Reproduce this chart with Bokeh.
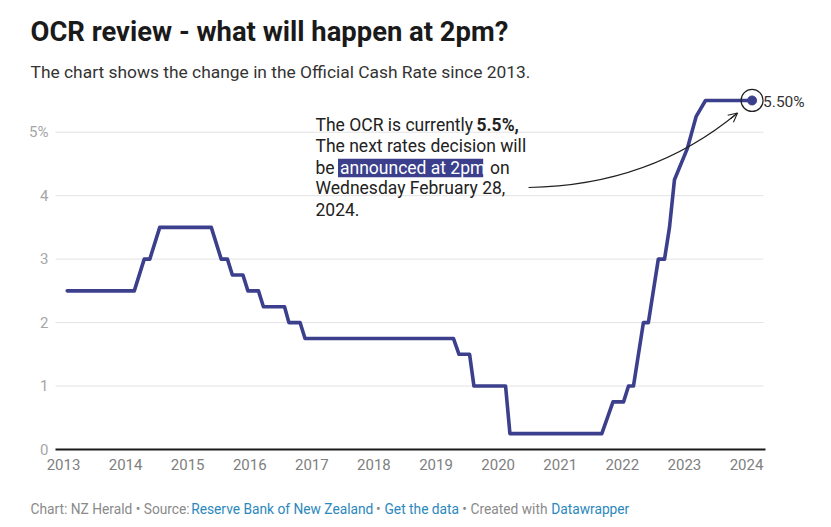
from bokeh.plotting import figure
from bokeh.models import FixedTicker, Range1d, Arrow, OpenHead
from bokeh.core.properties import value
from bokeh.embed import file_html
from bokeh.resources import INLINE

# ---- data (decimal year, OCR %) ----
ocr_date = [2013.06, 2014.14, 2014.30, 2014.39, 2014.55, 2015.38, 2015.54, 2015.64,
            2015.72, 2015.89, 2015.97, 2016.14, 2016.22, 2016.56, 2016.63, 2016.81,
            2016.89, 2019.28, 2019.37, 2019.54, 2019.61, 2020.12, 2020.19, 2021.67,
            2021.85, 2022.02, 2022.10, 2022.18, 2022.34, 2022.42, 2022.58, 2022.68,
            2022.76, 2022.84, 2023.05, 2023.19, 2023.34, 2024.09]
ocr_rate = [2.5, 2.5, 3.0, 3.0, 3.5, 3.5, 3.0, 3.0,
            2.75, 2.75, 2.5, 2.5, 2.25, 2.25, 2.0, 2.0,
            1.75, 1.75, 1.5, 1.5, 1.0, 1.0, 0.25, 0.25,
            0.75, 0.75, 1.0, 1.0, 2.0, 2.0, 3.0, 3.0,
            3.5, 4.25, 4.75, 5.25, 5.5, 5.5]
year_ticks = [2013, 2014, 2015, 2016, 2017, 2018, 2019, 2020, 2021, 2022, 2023, 2024]
value_ticks = [0, 1, 2, 3, 4, 5]
value_tick_labels = {0: "0", 1: "1", 2: "2", 3: "3", 4: "4", 5: "5%"}

NAVY = "#3b3f8c"
FONT = "Roboto"
W, H = 831, 527
PXX = 62.09   # px per year   (2013 at page x 63)
PXY = 63.46   # px per unit   (0 at page y 449)


def px_x(px):
    return 2013 + (px - 63) / PXX


def px_y(py):
    return (449 - py) / PXY


p = figure(width=W, height=H, output_backend="svg", toolbar_location=None,
           x_range=Range1d(px_x(0), px_x(W)), y_range=Range1d(px_y(H), px_y(0)),
           min_border=0, min_border_left=0, min_border_right=0,
           min_border_top=0, min_border_bottom=0)
p.outline_line_color = None
p.background_fill_color = "white"
p.border_fill_color = "white"
p.xgrid.visible = False
p.ygrid.visible = False

PLOT_LEFT = px_x(55)
PLOT_RIGHT = px_x(765)

# axes, pinned inside the frame
p.xaxis.fixed_location = 0
p.xaxis.ticker = FixedTicker(ticks=year_ticks)
p.xaxis.axis_line_color = None
p.xaxis.major_tick_line_color = None
p.xaxis.minor_tick_line_color = None
p.xaxis.major_tick_out = 0
p.xaxis.major_tick_in = 0
p.xaxis.major_label_standoff = 9
p.xaxis.major_label_text_font = FONT
p.xaxis.major_label_text_font_size = "15px"
p.xaxis.major_label_text_color = "#808080"

p.yaxis.fixed_location = PLOT_LEFT
p.yaxis.ticker = FixedTicker(ticks=value_ticks)
p.yaxis.major_label_overrides = value_tick_labels
p.yaxis.axis_line_color = None
p.yaxis.major_tick_line_color = None
p.yaxis.minor_tick_line_color = None
p.yaxis.major_tick_out = 0
p.yaxis.major_tick_in = 0
p.yaxis.major_label_standoff = 7
p.yaxis.major_label_text_font = FONT
p.yaxis.major_label_text_font_size = "15px"
p.yaxis.major_label_text_color = "#a6a6a6"

# gridlines (stop short of the end label) and baseline
grid_vals = [v for v in value_ticks if v != 0]
p.segment(x0=[PLOT_LEFT] * len(grid_vals), y0=grid_vals,
          x1=[px_x(763)] * len(grid_vals), y1=grid_vals,
          line_color="#e3e3e3", line_width=1)
p.segment(x0=[PLOT_LEFT], y0=[0], x1=[PLOT_RIGHT], y1=[0], line_color="#1a1a1a", line_width=2.2)

# main line
p.line(ocr_date, ocr_rate, line_color=NAVY, line_width=3.6, line_join="round", line_cap="round")

# end point, ring and label
p.scatter([ocr_date[-1]], [ocr_rate[-1]], size=9, fill_color=NAVY, line_color=NAVY)
p.scatter([ocr_date[-1]], [ocr_rate[-1]], size=22, fill_alpha=0, line_color="#222222", line_width=1.2)
p.text([ocr_date[-1]], [ocr_rate[-1]], text=[f"{ocr_rate[-1]:.2f}%"], x_offset=11, y_offset=2,
       text_font=value(FONT), text_font_size="15.5px", text_color="#333333",
       text_baseline="middle", text_align="left")


def txt(x_px, y_px, text, size, bold=False, color="#222222"):
    p.text([px_x(x_px)], [px_y(y_px)], text=[text], text_font=value(FONT), text_font_size=size,
           text_font_style="bold" if bold else "normal", text_color=color,
           text_baseline="middle", text_align="left")


# annotation text (y = visual centre of each line)
ANN = "17.5px"
mid = [124.5, 145.5, 167.0, 187.5, 208.5]
p.quad(left=[px_x(337.5)], right=[px_x(482.7)], top=[px_y(158.3)], bottom=[px_y(176.7)],
       fill_color=NAVY, line_color=None)
txt(315, mid[0], "The OCR is currently", ANN)
txt(476, mid[0], "5.5%,", ANN, bold=True)
txt(315, mid[1], "The next rates decision will", ANN)
txt(315, mid[2], "be", ANN)
txt(339.5, mid[2], "announced at 2pm", ANN, color="white")
txt(489.5, mid[2], "on", ANN)
txt(315, mid[3], "Wednesday February 28,", ANN)
txt(315, mid[4], "2024.", ANN)

# curved arrow
x0, y0 = px_x(528), px_y(187)
cx, cy = px_x(650), px_y(185)
x1, y1 = px_x(737), px_y(112.5)
p.quadratic(x0=[x0], y0=[y0], x1=[x1], y1=[y1], cx=[cx], cy=[cy], line_color="#222222", line_width=1.1)
p.add_layout(Arrow(end=OpenHead(size=9, line_width=1.1, line_color="#222222"),
                   x_start=x1 - 0.08 * (x1 - cx), y_start=y1 - 0.08 * (y1 - cy),
                   x_end=x1, y_end=y1, line_color="#222222", line_width=1.1))

# title, subtitle
txt(30, 31, "OCR review - what will happen at 2pm?", "27.4px", bold=True, color="#1a1a1a")
txt(30, 71, "The chart shows the change in the Official Cash Rate since 2013.", "17.4px",
    color="#333333")

# footer
GRAY = "#8a8a8a"
BLUE = "#2b88bd"
FOOT = "13.75px"
txt(30, 508, "Chart: NZ Herald • Source:", FOOT, color=GRAY)
txt(190.7, 508, "Reserve Bank of New Zealand", FOOT, color=BLUE)
txt(375.5, 508, "•", FOOT, color=GRAY)
txt(384, 508, "Get the data", FOOT, color=BLUE)
txt(461.8, 508, "•", FOOT, color=GRAY)
txt(470, 508, "Created with", FOOT, color=GRAY)
txt(550.7, 508, "Datawrapper", FOOT, color=BLUE)

open("out.html", "w").write(file_html(p, INLINE))
